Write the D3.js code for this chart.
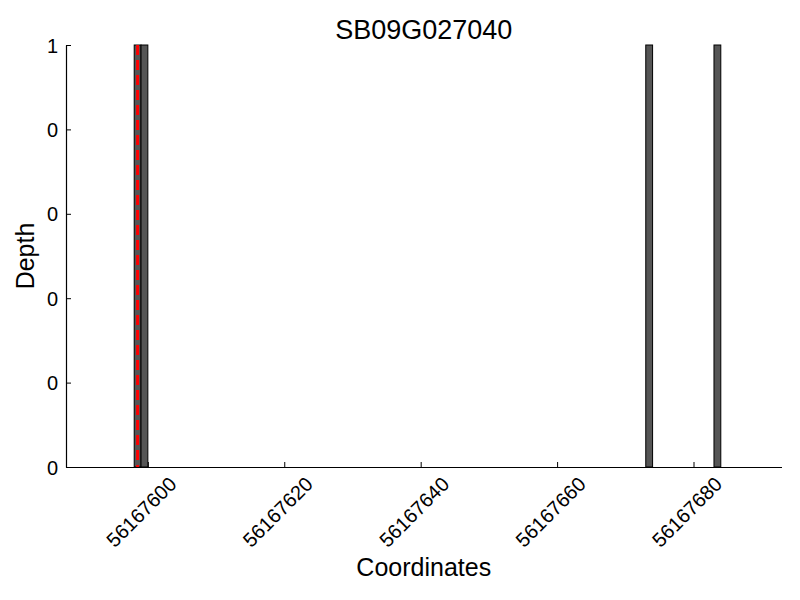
<!DOCTYPE html>
<html>
<head>
<meta charset="utf-8">
<script src="https://cdn.jsdelivr.net/npm/d3@7"></script>
<style>
body{margin:0;background:#fff;}
text{font-family:"Liberation Sans",Arial,sans-serif;fill:#000;}
</style>
</head>
<body>
<svg id="chart" width="800" height="600"></svg>
<script>
// ---- data ----
const title = "SB09G027040";
const barStarts = [56167598, 56167599, 56167673, 56167683];
const barDepths = [1, 1, 1, 1];
const markerPos = [56167598.5];
const xTickValues = [56167600, 56167620, 56167640, 56167660, 56167680];
const xTickLabels = ["56167600", "56167620", "56167640", "56167660", "56167680"];
const yTickValues = [0, 0.2, 0.4, 0.6, 0.8, 1];
const yTickLabels = ["0", "0", "0", "0", "0", "1"];
const xDomain = [56167588, 56167692.9];
const yDomain = [0, 1];

// ---- layout ----
const L = 66, R = 781.5, T = 45, B = 467;
const svg = d3.select("#chart");
const x = d3.scaleLinear().domain(xDomain).range([L, R]);
const y = d3.scaleLinear().domain(yDomain).range([B, T]);

// bars
svg.append("g").selectAll("rect").data(barStarts).join("rect")
  .attr("x", d => x(d))
  .attr("width", d => x(d + 1) - x(d))
  .attr("y", (d, i) => y(barDepths[i]))
  .attr("height", (d, i) => y(0) - y(barDepths[i]))
  .attr("fill", "#555555")
  .attr("stroke", "#000")
  .attr("stroke-width", 1);

// marker line
svg.append("g").selectAll("line").data(markerPos).join("line")
  .attr("x1", d => x(d)).attr("x2", d => x(d))
  .attr("y1", y(yDomain[1])).attr("y2", y(0))
  .attr("stroke", "#ff0000")
  .attr("stroke-width", 3)
  .attr("stroke-dasharray", "10,5");

// x axis
const xAxis = d3.axisBottom(x).tickValues(xTickValues)
  .tickSizeInner(-5).tickSizeOuter(0).tickFormat((d, i) => xTickLabels[i]);
const gx = svg.append("g").attr("transform", `translate(0,${B})`).call(xAxis);
gx.select(".domain").attr("stroke", "#000").attr("stroke-width", 1.2);
gx.selectAll(".tick line").attr("stroke", "#000");
gx.selectAll(".tick text")
  .attr("font-size", 20)
  .attr("text-anchor", "middle")
  .attr("dominant-baseline", "central")
  .attr("dy", null)
  .attr("y", null)
  .attr("transform", "translate(-7,45) rotate(-45)");

// y axis
const yAxis = d3.axisLeft(y).tickValues(yTickValues)
  .tickSizeInner(-5).tickSizeOuter(0).tickFormat((d, i) => yTickLabels[i]);
const gy = svg.append("g").attr("transform", `translate(${L},0)`).call(yAxis);
gy.select(".domain").attr("stroke", "#000").attr("stroke-width", 1.2);
gy.selectAll(".tick line").attr("stroke", "#000");
gy.selectAll(".tick text")
  .attr("font-size", 20)
  .attr("x", -8)
  .attr("dy", "0.35em")
  .attr("text-anchor", "end");

// title and labels
svg.append("text").attr("x", (L + R) / 2).attr("y", 39)
  .attr("text-anchor", "middle").attr("font-size", 27).text(title);
svg.append("text").attr("x", (L + R) / 2).attr("y", 576)
  .attr("text-anchor", "middle").attr("font-size", 25).text("Coordinates");
svg.append("text").attr("transform", `translate(34,${(T + B) / 2}) rotate(-90)`)
  .attr("text-anchor", "middle").attr("font-size", 25).text("Depth");
</script>
</body>
</html>
